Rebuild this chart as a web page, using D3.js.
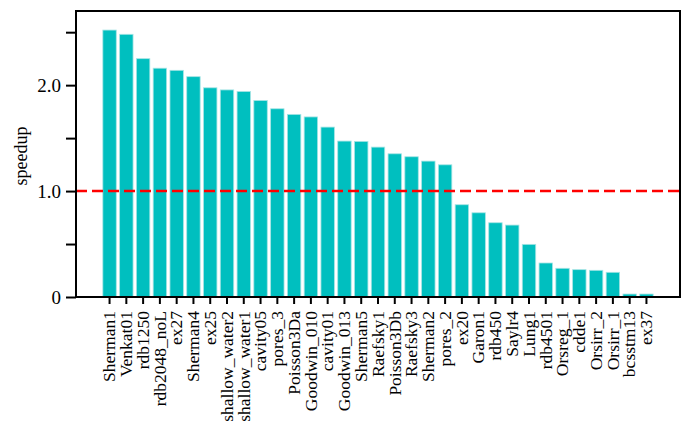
<!DOCTYPE html>
<html>
<head>
<meta charset="utf-8">
<script src="https://cdn.jsdelivr.net/npm/d3@7"></script>
<style>
  body { margin: 0; background: #fff; }
  svg { display: block; }
  text { font-family: "Liberation Serif", "DejaVu Serif", serif; fill: #000; }
</style>
</head>
<body>
<svg id="chart" width="700" height="431"></svg>
<script>
const categories = ["Sherman1","Venkat01","rdb1250","rdb2048_noL","ex27","Sherman4","ex25","shallow_water2","shallow_water1","cavity05","pores_3","Poisson3Da","Goodwin_010","cavity01","Goodwin_013","Sherman5","Raefsky1","Poisson3Db","Raefsky3","Sherman2","pores_2","ex20","Garon1","rdb450","Saylr4","Lung1","rdb4501","Orsreg_1","cdde1","Orsirr_2","Orsirr_1","bcsstm13","ex37"];
const speedup = [2.52,2.48,2.25,2.16,2.14,2.08,1.975,1.955,1.94,1.855,1.777,1.724,1.70,1.604,1.472,1.469,1.415,1.352,1.324,1.283,1.248,0.871,0.795,0.701,0.679,0.497,0.321,0.271,0.258,0.252,0.233,0.028,0.028];
const yMajorTicks = [0, 1.0, 2.0];
const yMajorLabels = ["0", "1.0", "2.0"];
const yMinorTicks = [0.5, 1.5, 2.5];
const baseline = 1.0;
const yLabel = "speedup";

const svg = d3.select("#chart");
const L = 76, R = 680, T = 11, B = 297;

const x = d3.scaleBand().domain(categories).range([L, R]).paddingInner(0.2).paddingOuter(1.6);
const y = d3.scaleLinear().domain([0, 2.7]).range([B, T]);

// bars
svg.append("g").selectAll("rect").data(categories).join("rect")
  .attr("x", d => x(d))
  .attr("y", (d, i) => y(speedup[i]))
  .attr("width", x.bandwidth())
  .attr("height", (d, i) => y(0) - y(speedup[i]))
  .attr("fill", "#00bfbf")
  .attr("stroke", "#a6e4e4")
  .attr("stroke-width", 0.8);

// baseline dashed line
svg.append("line")
  .attr("x1", L).attr("x2", R)
  .attr("y1", y(baseline)).attr("y2", y(baseline))
  .attr("stroke", "#ff0000").attr("stroke-width", 2.5)
  .attr("stroke-dasharray", "11,5");

// frame
svg.append("rect")
  .attr("x", L).attr("y", T).attr("width", R - L).attr("height", B - T)
  .attr("fill", "none").attr("stroke", "#000").attr("stroke-width", 2);

// y axis
const yAxis = d3.axisLeft(y).tickValues(yMajorTicks)
  .tickFormat((d, i) => yMajorLabels[i]).tickSize(10).tickPadding(5);
const gy = svg.append("g").attr("transform", `translate(${L},0)`).call(yAxis);
gy.select(".domain").remove();
gy.selectAll(".tick line").attr("stroke", "#000").attr("stroke-width", 2);
gy.selectAll(".tick text").attr("font-size", 19).style("font-family", "Liberation Serif");

const gyMinor = svg.append("g").attr("transform", `translate(${L},0)`)
  .call(d3.axisLeft(y).tickValues(yMinorTicks).tickFormat("").tickSize(10));
gyMinor.select(".domain").remove();
gyMinor.selectAll(".tick line").attr("stroke", "#000").attr("stroke-width", 2);

// x axis
const xAxis = d3.axisBottom(x).tickSize(7).tickPadding(0);
const gx = svg.append("g").attr("transform", `translate(0,${B})`).call(xAxis);
gx.select(".domain").remove();
gx.selectAll(".tick line").attr("stroke", "#000").attr("stroke-width", 2);
gx.selectAll(".tick text")
  .attr("font-size", 17.5)
  .style("font-family", "Liberation Serif")
  .attr("text-anchor", "end")
  .attr("dy", "0.33em")
  .attr("transform", "translate(0,14) rotate(-90)")
  .attr("x", 0).attr("y", 0);

// y label
svg.append("text")
  .attr("transform", `translate(27,${(T + B) / 2 + 2}) rotate(-90)`)
  .attr("text-anchor", "middle")
  .attr("font-size", 18)
  .text(yLabel);
</script>
</body>
</html>
